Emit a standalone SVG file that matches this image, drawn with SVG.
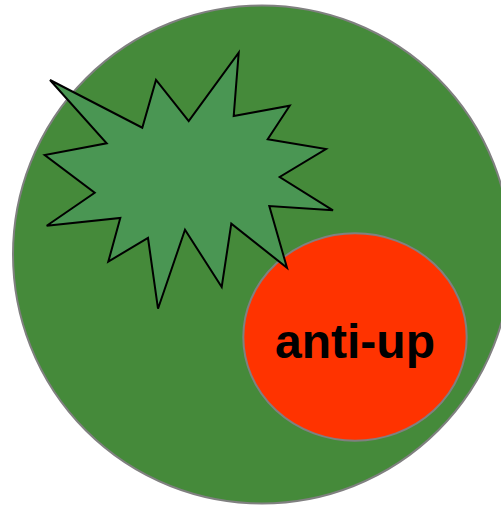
<svg xmlns="http://www.w3.org/2000/svg" width="501" height="506" viewBox="0 0 501 506">
  <style>
    .outer { fill: #458a3a; stroke: #808080; stroke-width: 2; }
    .star { fill: #4a9653; stroke: #000000; stroke-width: 2; stroke-linejoin: miter; }
    .red { fill: #ff3300; stroke: #808080; stroke-width: 2; }
    .label { font-family: "Liberation Sans", Arial, sans-serif; font-weight: bold; font-size: 48px; fill: #000000; }
  </style>
  <rect width="501" height="506" fill="#ffffff"/>
  <g id="outer-circle">
    <circle class="outer" cx="262" cy="254.5" r="249"/>
  </g>
  <g id="anti-up">
    <ellipse class="red" cx="355" cy="337" rx="111.7" ry="103.7"/>
    <text class="label" x="355" y="358" text-anchor="middle">anti-up</text>
  </g>
  <g id="star">
    <polygon class="star" points="50,80 142.3,127.7 156,80 188.7,121 238.7,52.7 233.7,116 289.7,105.7 267.7,139.3 326,149 279.7,177 333,210.3 269.3,206 287,267.7 231.3,223.7 221.7,287 185,229.7 158,308.7 148,238 108.3,261.7 120.3,218 46.7,225.7 94.7,192.7 44.7,155 106.7,143.3"/>
  </g>
  <g id="connectors"/>
</svg>
